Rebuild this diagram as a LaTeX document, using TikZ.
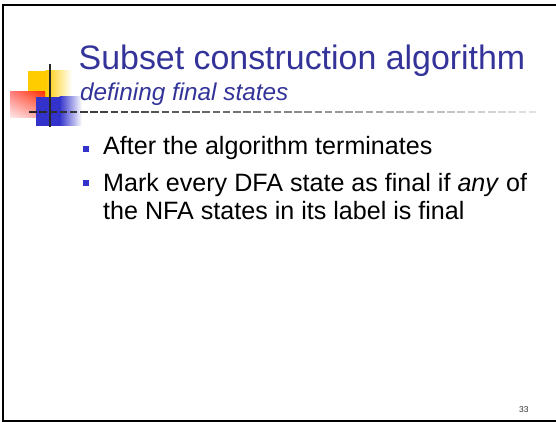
\documentclass[tikz,border=0pt]{standalone}
\usepackage{fontspec}
\setmainfont{Liberation Sans}
\usetikzlibrary{shadings}
\definecolor{titleblue}{HTML}{333399}
\definecolor{bulletblue}{HTML}{3333CC}
\definecolor{logoyellow}{HTML}{FFCC00}
\definecolor{logored}{HTML}{FF3300}
\begin{document}
\begin{tikzpicture}[x=1pt,y=-1pt,
  frame/.style={line width=2pt,black},
  titletext/.style={anchor=base west,inner sep=0pt,text=titleblue,font=\fontsize{33.9}{36}\selectfont},
  subtext/.style={anchor=base west,inner sep=0pt,text=titleblue,font=\fontsize{24.3}{26}\selectfont\itshape},
  bodytext/.style={anchor=base west,inner sep=0pt,text=black,font=\fontsize{25.1}{28}\selectfont},
  bulletbox/.style={fill=bulletblue,minimum size=6pt,inner sep=0pt,outer sep=0pt}]
\useasboundingbox (0,0) rectangle (556,422);
\fill[white] (0,0) rectangle (556,422);
% frame
\draw[frame] (3,422) -- (3,5) -- (556,5);
\draw[frame] (3,420.5) -- (556,420.5);
% logo
\fill[logoyellow] (28,71) rectangle (46,100);
\shade[left color=logoyellow,right color=white] (45.5,71) rectangle (72,100);
\shade[upper right=logored, upper left=red!50!white, lower right=red!35!white, lower left=red!8!white] (10,92) rectangle (45,118);
\fill[bulletblue] (36,97) rectangle (60,126);
\shade[left color=bulletblue,right color=white] (59.5,97) rectangle (82,126);
\draw[line width=2pt,black!85] (49.5,64) -- (49.5,127);
\foreach \i in {0,...,49} {
  \pgfmathsetmacro{\p}{max(0,85-\i*1.5)}
  \draw[line width=2pt,black!\p!white] ({29+\i*10.2},112) -- ({29+\i*10.2+7.5},112);
}
% title
\node[titletext] (title) at (78.5,69.5) {Subset construction algorithm};
\node[subtext] (sub) at (80,100.5) {defining final states};
% bullets
\node[bulletbox] (b1) at (86,149) {};
\node[bodytext] (t1) at (103,154.5) {After the algorithm terminates};
\node[bulletbox] (b2) at (86,182.5) {};
\node[bodytext] (t2) at (103,191) {Mark every DFA state as final if \textit{any} of};
\node[bodytext] (t3) at (103,219) {the NFA states in its label is final};
% page number
\node[anchor=base west,inner sep=0pt,font=\fontsize{8.5}{10}\selectfont,text=black!80] (pn) at (519,412) {33};
\end{tikzpicture}
\end{document}
